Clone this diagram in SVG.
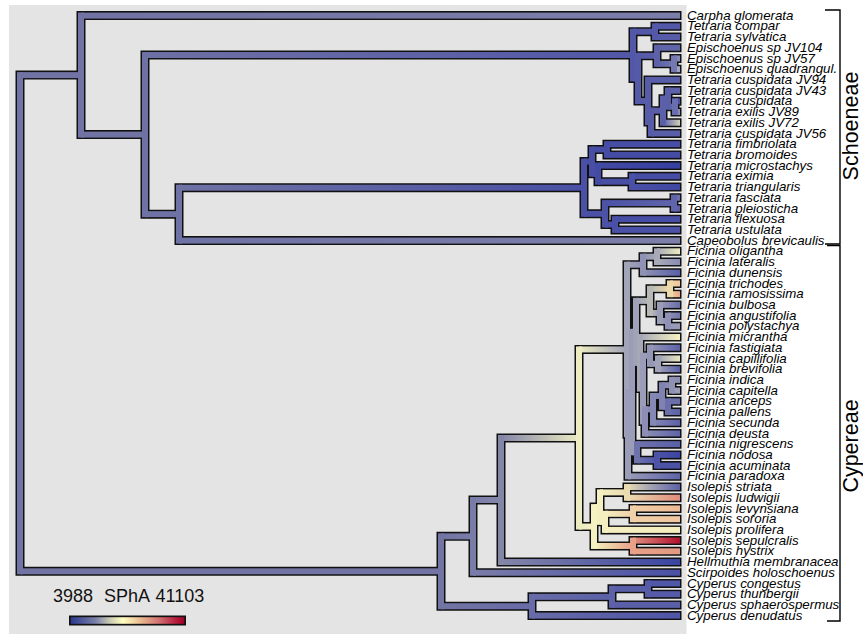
<svg xmlns="http://www.w3.org/2000/svg" width="863" height="634" viewBox="0 0 863 634">
<style>
.lab{font-family:"Liberation Sans",Arial,sans-serif;font-style:italic;font-size:13.3px;fill:#000}
.clade{font-family:"Liberation Sans",Arial,sans-serif;font-size:21.5px;fill:#000}
.leg{font-family:"Liberation Sans",Arial,sans-serif;font-size:18px;fill:#111}
.outline{fill:none;stroke:#111;stroke-width:9;stroke-linecap:square}
.br{fill:none;stroke:#000;stroke-width:1.4}
</style>
<defs>
<linearGradient id="leg"><stop offset="0" stop-color="#2b3990"/><stop offset="0.22" stop-color="#7a80a8"/><stop offset="0.34" stop-color="#c8c8b4"/><stop offset="0.46" stop-color="#ffffc0"/><stop offset="0.62" stop-color="#e8b890"/><stop offset="0.78" stop-color="#d07070"/><stop offset="0.92" stop-color="#b82040"/><stop offset="1" stop-color="#a00028"/></linearGradient>
<linearGradient id="gN1c"><stop offset="0" stop-color="#7073a3"/><stop offset="1" stop-color="#7c7eaa"/></linearGradient>
<linearGradient id="gE"><stop offset="0" stop-color="#6e71a4"/><stop offset="1" stop-color="#5257a8"/></linearGradient>
<linearGradient id="gP"><stop offset="0" stop-color="#6e72a4"/><stop offset="1" stop-color="#4a50a5"/></linearGradient>
<linearGradient id="gCap"><stop offset="0" stop-color="#6e72a4"/><stop offset="1" stop-color="#7d7fa9"/></linearGradient>
<linearGradient id="gI"><stop offset="0" stop-color="#5c61a8"/><stop offset="1" stop-color="#7478b0"/></linearGradient>
<linearGradient id="gJ72"><stop offset="0" stop-color="#5c60aa"/><stop offset="1" stop-color="#cfcfba"/></linearGradient>
<linearGradient id="gNn"><stop offset="0" stop-color="#5a5faa"/><stop offset="1" stop-color="#6a6eae"/></linearGradient>
<linearGradient id="gMic"><stop offset="0" stop-color="#434aa3"/><stop offset="1" stop-color="#353fa0"/></linearGradient>
<linearGradient id="gTri"><stop offset="0" stop-color="#4a50a5"/><stop offset="1" stop-color="#3f47a2"/></linearGradient>
<linearGradient id="gSa"><stop offset="0" stop-color="#4c52a6"/><stop offset="1" stop-color="#6064ab"/></linearGradient>
<linearGradient id="gB"><stop offset="0" stop-color="#7275a3"/><stop offset="1" stop-color="#7a7ca8"/></linearGradient>
<linearGradient id="gCy"><stop offset="0" stop-color="#7275a3"/><stop offset="1" stop-color="#676ba7"/></linearGradient>
<linearGradient id="gC"><stop offset="0" stop-color="#7a7ca8"/><stop offset="1" stop-color="#8486a8"/></linearGradient>
<linearGradient id="gSc"><stop offset="0" stop-color="#7a7ca8"/><stop offset="1" stop-color="#4a51a6"/></linearGradient>
<linearGradient id="gD"><stop offset="0" stop-color="#8486a8"/><stop offset="1" stop-color="#ecebc2"/></linearGradient>
<linearGradient id="gHe"><stop offset="0" stop-color="#8486a8"/><stop offset="1" stop-color="#3a44a2"/></linearGradient>
<linearGradient id="gFc"><stop offset="0" stop-color="#ecebc2"/><stop offset="1" stop-color="#a2a4b8"/></linearGradient>
<linearGradient id="gIs"><stop offset="0" stop-color="#ecebc2"/><stop offset="1" stop-color="#f4f2c0"/></linearGradient>
<linearGradient id="gFa"><stop offset="0" stop-color="#a2a4b8"/><stop offset="1" stop-color="#9092b5"/></linearGradient>
<linearGradient id="gFol"><stop offset="0" stop-color="#9092b5"/><stop offset="1" stop-color="#a8aab8"/></linearGradient>
<linearGradient id="gDu"><stop offset="0" stop-color="#9092b5"/><stop offset="1" stop-color="#5960a8"/></linearGradient>
<linearGradient id="gOl"><stop offset="0" stop-color="#a8aab8"/><stop offset="1" stop-color="#ecebc2"/></linearGradient>
<linearGradient id="gLa"><stop offset="0" stop-color="#a8aab8"/><stop offset="1" stop-color="#8a8cb4"/></linearGradient>
<linearGradient id="gPa"><stop offset="0" stop-color="#9a9cb8"/><stop offset="1" stop-color="#5e63a9"/></linearGradient>
<linearGradient id="gNna"><stop offset="0" stop-color="#9a9cb8"/><stop offset="1" stop-color="#6e72ab"/></linearGradient>
<linearGradient id="gT"><stop offset="0" stop-color="#a0a2b8"/><stop offset="1" stop-color="#b8b9b6"/></linearGradient>
<linearGradient id="gTtr"><stop offset="0" stop-color="#b8b9b6"/><stop offset="1" stop-color="#ecd8a8"/></linearGradient>
<linearGradient id="gTbu"><stop offset="0" stop-color="#b8b9b6"/><stop offset="1" stop-color="#9a9cb8"/></linearGradient>
<linearGradient id="gTr"><stop offset="0" stop-color="#ecd8a8"/><stop offset="1" stop-color="#f2c49c"/></linearGradient>
<linearGradient id="gRa"><stop offset="0" stop-color="#ecd8a8"/><stop offset="1" stop-color="#eaa684"/></linearGradient>
<linearGradient id="gBu"><stop offset="0" stop-color="#9a9cb8"/><stop offset="1" stop-color="#6a6eaa"/></linearGradient>
<linearGradient id="gAn"><stop offset="0" stop-color="#8e90b5"/><stop offset="1" stop-color="#7276ac"/></linearGradient>
<linearGradient id="gMi"><stop offset="0" stop-color="#a6a8b8"/><stop offset="1" stop-color="#f6f3c2"/></linearGradient>
<linearGradient id="gFs"><stop offset="0" stop-color="#9496b6"/><stop offset="1" stop-color="#5d62a8"/></linearGradient>
<linearGradient id="gCa"><stop offset="0" stop-color="#a0a2b8"/><stop offset="1" stop-color="#e8e6c0"/></linearGradient>
<linearGradient id="gBr"><stop offset="0" stop-color="#a0a2b8"/><stop offset="1" stop-color="#5a60a8"/></linearGradient>
<linearGradient id="gDeu"><stop offset="0" stop-color="#8c8eb5"/><stop offset="1" stop-color="#5f64a9"/></linearGradient>
<linearGradient id="gSec"><stop offset="0" stop-color="#8587b4"/><stop offset="1" stop-color="#5c61a9"/></linearGradient>
<linearGradient id="gPal"><stop offset="0" stop-color="#6a6eaa"/><stop offset="1" stop-color="#5c61a9"/></linearGradient>
<linearGradient id="gNi"><stop offset="0" stop-color="#6e72ab"/><stop offset="1" stop-color="#5a60a8"/></linearGradient>
<linearGradient id="gNnd"><stop offset="0" stop-color="#6e72ab"/><stop offset="1" stop-color="#4d54a8"/></linearGradient>
<linearGradient id="gNo"><stop offset="0" stop-color="#4d54a8"/><stop offset="1" stop-color="#3b44a2"/></linearGradient>
<linearGradient id="gSH"><stop offset="0" stop-color="#f4f2c0"/><stop offset="1" stop-color="#e8a088"/></linearGradient>
<linearGradient id="gSL"><stop offset="0" stop-color="#f4efc0"/><stop offset="1" stop-color="#eadcb0"/></linearGradient>
<linearGradient id="gSt"><stop offset="0" stop-color="#eadcb0"/><stop offset="0.4" stop-color="#a8a8b4"/><stop offset="1" stop-color="#5c62a8"/></linearGradient>
<linearGradient id="gLu"><stop offset="0" stop-color="#eadcb0"/><stop offset="1" stop-color="#e08a7c"/></linearGradient>
<linearGradient id="gLS"><stop offset="0" stop-color="#f4eec0"/><stop offset="1" stop-color="#f0d0a8"/></linearGradient>
<linearGradient id="gLe"><stop offset="0" stop-color="#f0d0a8"/><stop offset="1" stop-color="#eeb894"/></linearGradient>
<linearGradient id="gSo"><stop offset="0" stop-color="#f0d0a8"/><stop offset="1" stop-color="#f0c6a0"/></linearGradient>
<linearGradient id="gSe"><stop offset="0" stop-color="#e29080"/><stop offset="1" stop-color="#b0102e"/></linearGradient>
<linearGradient id="gHy"><stop offset="0" stop-color="#e8a088"/><stop offset="1" stop-color="#e49a82"/></linearGradient>
<linearGradient id="gCy2"><stop offset="0" stop-color="#676ba7"/><stop offset="1" stop-color="#5c61a8"/></linearGradient>
<linearGradient id="gDe"><stop offset="0" stop-color="#676ba7"/><stop offset="1" stop-color="#4f55a7"/></linearGradient>
</defs>
<rect x="0" y="0" width="863" height="634" fill="#fff"/>
<rect x="9" y="5" width="677.5" height="629" fill="#e4e4e4"/>
<g id="branches">
<path class="outline" d="M20 75.1V571.3M81 15.6V134.59M145 55.03V214.15M179 187.7V240.6M633 31.67V78.38M655 26.31V37.03M638 55.78V100.98M657 47.74V63.81M674 58.46V69.17M648 79.89V122.07M651 110.69V133.46M663 98.64V122.74M668 90.6V106.67M675 101.31V112.03M584 161.58V213.81M592 149.53V173.64M607 144.17V154.89M598 165.6V181.67M632 176.31V187.03M605 203.1V224.53M674 197.74V208.46M615 219.17V229.89M441 536.37V606.22M473 500V572.74M501 437.98V562.03M579 349.43V526.54M627 264.7V434.17M643 256.67V272.74M657 251.31V262.03M628 392.02V476.31M632 331.84V452.21M636 300.87V362.81M650 288.81V312.92M670 283.46V294.17M660 304.89V320.96M668 315.6V326.31M640 337.03V388.59M643 355.78V421.4M650 347.74V363.81M658 358.46V369.17M645 409.35V433.46M653 395.96V422.74M662 385.24V406.67M672 379.89V390.6M668 401.31V412.03M637 444.17V460.24M657 454.89V465.6M594 507.12V545.96M600 492.38V521.85M627 487.03V497.74M605 513.81V529.89M633 508.46V519.17M633 540.6V551.31M532 596.85V615.6M612 588.81V604.89M648 583.46V594.17
M20 75.1H81M20 571.3H441M81 15.6H677M81 134.59H145M145 55.03H633M145 214.15H179M179 187.7H584M179 240.6H677M633 31.67H655M633 78.38H638M655 26.31H677M655 37.03H677M638 55.78H657M638 100.98H648M657 47.74H677M657 63.81H674M674 58.46H677M674 69.17H677M648 79.89H677M648 122.07H651M651 110.69H663M651 133.46H677M663 98.64H668M663 122.74H677M668 90.6H677M668 106.67H675M675 101.31H677M675 112.03H677M584 161.58H592M584 213.81H605M592 149.53H607M592 173.64H598M607 144.17H677M607 154.89H677M598 165.6H677M598 181.67H632M632 176.31H677M632 187.03H677M605 203.1H674M605 224.53H615M674 197.74H677M674 208.46H677M615 219.17H677M615 229.89H677M441 536.37H473M441 606.22H532M473 500H501M473 572.74H677M501 437.98H579M501 562.03H677M579 349.43H627M579 526.54H594M627 264.7H643M627 434.17H628M643 256.67H657M643 272.74H677M657 251.31H677M657 262.03H677M628 392.02H632M628 476.31H677M632 331.84H636M632 452.21H637M636 300.87H650M636 362.81H640M650 288.81H670M650 312.92H660M670 283.46H677M670 294.17H677M660 304.89H677M660 320.96H668M668 315.6H677M668 326.31H677M640 337.03H677M640 388.59H643M643 355.78H650M643 421.4H645M650 347.74H677M650 363.81H658M658 358.46H677M658 369.17H677M645 409.35H653M645 433.46H677M653 395.96H662M653 422.74H677M662 385.24H672M662 406.67H668M672 379.89H677M672 390.6H677M668 401.31H677M668 412.03H677M637 444.17H677M637 460.24H657M657 454.89H677M657 465.6H677M594 507.12H600M594 545.96H633M600 492.38H627M600 521.85H605M627 487.03H677M627 497.74H677M605 513.81H633M605 529.89H677M633 508.46H677M633 519.17H677M633 540.6H677M633 551.31H677M532 596.85H612M532 615.6H677M612 588.81H648M612 604.89H677M648 583.46H677M648 594.17H677"/>
<g id="edges">
<rect x="20" y="72.1" width="61" height="6" fill="#7073a3"/>
<rect x="20" y="568.3" width="421" height="6" fill="#7275a3"/>
<rect x="81" y="12.6" width="599" height="6" fill="url(#gN1c)"/>
<rect x="81" y="131.59" width="64" height="6" fill="#7073a3"/>
<rect x="145" y="52.03" width="488" height="6" fill="url(#gE)"/>
<rect x="145" y="211.15" width="34" height="6" fill="#6e72a4"/>
<rect x="179" y="184.7" width="405" height="6" fill="url(#gP)"/>
<rect x="179" y="237.6" width="501" height="6" fill="url(#gCap)"/>
<rect x="633" y="28.67" width="22" height="6" fill="#5357a8"/>
<rect x="633" y="75.38" width="5" height="6" fill="#5358a8"/>
<rect x="655" y="23.31" width="25" height="6" fill="#5257a8"/>
<rect x="655" y="34.03" width="25" height="6" fill="#585ca8"/>
<rect x="638" y="52.78" width="19" height="6" fill="#585ca8"/>
<rect x="638" y="97.98" width="10" height="6" fill="#565ba8"/>
<rect x="657" y="44.74" width="23" height="6" fill="#6065a9"/>
<rect x="657" y="60.81" width="17" height="6" fill="url(#gI)"/>
<rect x="674" y="55.46" width="6" height="6" fill="#8587b6"/>
<rect x="674" y="66.17" width="6" height="6" fill="#a2a4bf"/>
<rect x="648" y="76.89" width="32" height="6" fill="#585da9"/>
<rect x="648" y="119.07" width="3" height="6" fill="#575ca8"/>
<rect x="651" y="107.69" width="12" height="6" fill="#5a5ea9"/>
<rect x="651" y="130.46" width="29" height="6" fill="#595ea9"/>
<rect x="663" y="95.64" width="5" height="6" fill="#5b5faa"/>
<rect x="663" y="119.74" width="17" height="6" fill="url(#gJ72)"/>
<rect x="668" y="87.6" width="12" height="6" fill="#5d62aa"/>
<rect x="668" y="103.67" width="7" height="6" fill="url(#gNn)"/>
<rect x="675" y="98.31" width="5" height="6" fill="#4a50a8"/>
<rect x="675" y="109.03" width="5" height="6" fill="#8a8db8"/>
<rect x="584" y="158.58" width="8" height="6" fill="#494fa5"/>
<rect x="584" y="210.81" width="21" height="6" fill="#4b51a6"/>
<rect x="592" y="146.53" width="15" height="6" fill="#464da4"/>
<rect x="592" y="170.64" width="6" height="6" fill="#454ca4"/>
<rect x="607" y="141.17" width="73" height="6" fill="#484ea5"/>
<rect x="607" y="151.89" width="73" height="6" fill="#454ca4"/>
<rect x="598" y="162.6" width="82" height="6" fill="url(#gMic)"/>
<rect x="598" y="178.67" width="34" height="6" fill="#474ea4"/>
<rect x="632" y="173.31" width="48" height="6" fill="#464da4"/>
<rect x="632" y="184.03" width="48" height="6" fill="url(#gTri)"/>
<rect x="605" y="200.1" width="69" height="6" fill="url(#gSa)"/>
<rect x="605" y="221.53" width="10" height="6" fill="#4b51a6"/>
<rect x="674" y="194.74" width="6" height="6" fill="#6c70ae"/>
<rect x="674" y="205.46" width="6" height="6" fill="#5c61aa"/>
<rect x="615" y="216.17" width="65" height="6" fill="#474ea5"/>
<rect x="615" y="226.89" width="65" height="6" fill="#4a51a6"/>
<rect x="441" y="533.37" width="32" height="6" fill="url(#gB)"/>
<rect x="441" y="603.22" width="91" height="6" fill="url(#gCy)"/>
<rect x="473" y="497" width="28" height="6" fill="url(#gC)"/>
<rect x="473" y="569.74" width="207" height="6" fill="url(#gSc)"/>
<rect x="501" y="434.98" width="78" height="6" fill="url(#gD)"/>
<rect x="501" y="559.03" width="179" height="6" fill="url(#gHe)"/>
<rect x="579" y="346.43" width="48" height="6" fill="url(#gFc)"/>
<rect x="579" y="523.54" width="15" height="6" fill="url(#gIs)"/>
<rect x="627" y="261.7" width="16" height="6" fill="url(#gFa)"/>
<rect x="627" y="431.17" width="1" height="6" fill="#9a9cb8"/>
<rect x="643" y="253.67" width="14" height="6" fill="url(#gFol)"/>
<rect x="643" y="269.74" width="37" height="6" fill="url(#gDu)"/>
<rect x="657" y="248.31" width="23" height="6" fill="url(#gOl)"/>
<rect x="657" y="259.03" width="23" height="6" fill="url(#gLa)"/>
<rect x="628" y="389.02" width="4" height="6" fill="#9a9cb8"/>
<rect x="628" y="473.31" width="52" height="6" fill="url(#gPa)"/>
<rect x="632" y="328.84" width="4" height="6" fill="#9ea0b8"/>
<rect x="632" y="449.21" width="5" height="6" fill="url(#gNna)"/>
<rect x="636" y="297.87" width="14" height="6" fill="url(#gT)"/>
<rect x="636" y="359.81" width="4" height="6" fill="#a4a6b8"/>
<rect x="650" y="285.81" width="20" height="6" fill="url(#gTtr)"/>
<rect x="650" y="309.92" width="10" height="6" fill="url(#gTbu)"/>
<rect x="670" y="280.46" width="10" height="6" fill="url(#gTr)"/>
<rect x="670" y="291.17" width="10" height="6" fill="url(#gRa)"/>
<rect x="660" y="301.89" width="20" height="6" fill="url(#gBu)"/>
<rect x="660" y="317.96" width="8" height="6" fill="#9496b6"/>
<rect x="668" y="312.6" width="12" height="6" fill="url(#gAn)"/>
<rect x="668" y="323.31" width="12" height="6" fill="#989ab8"/>
<rect x="640" y="334.03" width="40" height="6" fill="url(#gMi)"/>
<rect x="640" y="385.59" width="3" height="6" fill="#a0a2b8"/>
<rect x="643" y="352.78" width="7" height="6" fill="#9698b6"/>
<rect x="643" y="418.4" width="2" height="6" fill="#8c8eb5"/>
<rect x="650" y="344.74" width="30" height="6" fill="url(#gFs)"/>
<rect x="650" y="360.81" width="8" height="6" fill="#9a9cb7"/>
<rect x="658" y="355.46" width="22" height="6" fill="url(#gCa)"/>
<rect x="658" y="366.17" width="22" height="6" fill="url(#gBr)"/>
<rect x="645" y="406.35" width="8" height="6" fill="#8789b4"/>
<rect x="645" y="430.46" width="35" height="6" fill="url(#gDeu)"/>
<rect x="653" y="392.96" width="9" height="6" fill="#8284b3"/>
<rect x="653" y="419.74" width="27" height="6" fill="url(#gSec)"/>
<rect x="662" y="382.24" width="10" height="6" fill="#888ab3"/>
<rect x="662" y="403.67" width="6" height="6" fill="#7478ae"/>
<rect x="672" y="376.89" width="8" height="6" fill="#8c8eb4"/>
<rect x="672" y="387.6" width="8" height="6" fill="#9a9cb8"/>
<rect x="668" y="398.31" width="12" height="6" fill="#6a6faa"/>
<rect x="668" y="409.03" width="12" height="6" fill="url(#gPal)"/>
<rect x="637" y="441.17" width="43" height="6" fill="url(#gNi)"/>
<rect x="637" y="457.24" width="20" height="6" fill="url(#gNnd)"/>
<rect x="657" y="451.89" width="23" height="6" fill="url(#gNo)"/>
<rect x="657" y="462.6" width="23" height="6" fill="#4c53a7"/>
<rect x="594" y="504.12" width="6" height="6" fill="#f4f2c0"/>
<rect x="594" y="542.96" width="39" height="6" fill="url(#gSH)"/>
<rect x="600" y="489.38" width="27" height="6" fill="url(#gSL)"/>
<rect x="600" y="518.85" width="5" height="6" fill="#f4efc0"/>
<rect x="627" y="484.03" width="53" height="6" fill="url(#gSt)"/>
<rect x="627" y="494.74" width="53" height="6" fill="url(#gLu)"/>
<rect x="605" y="510.81" width="28" height="6" fill="url(#gLS)"/>
<rect x="605" y="526.89" width="75" height="6" fill="#f4eec0"/>
<rect x="633" y="505.46" width="47" height="6" fill="url(#gLe)"/>
<rect x="633" y="516.17" width="47" height="6" fill="url(#gSo)"/>
<rect x="633" y="537.6" width="47" height="6" fill="url(#gSe)"/>
<rect x="633" y="548.31" width="47" height="6" fill="url(#gHy)"/>
<rect x="532" y="593.85" width="80" height="6" fill="url(#gCy2)"/>
<rect x="532" y="612.6" width="148" height="6" fill="url(#gDe)"/>
<rect x="612" y="585.81" width="36" height="6" fill="#595ea8"/>
<rect x="612" y="601.89" width="68" height="6" fill="#5a5fa8"/>
<rect x="648" y="580.46" width="32" height="6" fill="#5258a8"/>
<rect x="648" y="591.17" width="32" height="6" fill="#555ba8"/>
</g>
<g id="verticals">
<rect x="17" y="72.1" width="6" height="502.2" fill="#7073a3"/>
<rect x="78" y="12.6" width="6" height="124.99" fill="#7073a3"/>
<rect x="142" y="52.03" width="6" height="165.12" fill="#6e71a4"/>
<rect x="176" y="184.7" width="6" height="58.9" fill="#6e72a4"/>
<rect x="630" y="28.67" width="6" height="52.71" fill="#5257a8"/>
<rect x="652" y="23.31" width="6" height="16.72" fill="#5458a8"/>
<rect x="635" y="52.78" width="6" height="51.2" fill="#5459a8"/>
<rect x="654" y="44.74" width="6" height="22.07" fill="#5c61a8"/>
<rect x="671" y="55.46" width="6" height="16.71" fill="#7478b0"/>
<rect x="645" y="76.89" width="6" height="48.18" fill="#575ca8"/>
<rect x="648" y="107.69" width="6" height="28.77" fill="#575ca8"/>
<rect x="660" y="95.64" width="6" height="30.1" fill="#5c60aa"/>
<rect x="665" y="87.6" width="6" height="22.07" fill="#5a5faa"/>
<rect x="672" y="98.31" width="6" height="16.72" fill="#6a6eae"/>
<rect x="581" y="158.58" width="6" height="58.23" fill="#4a50a5"/>
<rect x="589" y="146.53" width="6" height="30.11" fill="#474ea4"/>
<rect x="604" y="141.17" width="6" height="16.72" fill="#454ca4"/>
<rect x="595" y="162.6" width="6" height="22.07" fill="#434aa3"/>
<rect x="629" y="173.31" width="6" height="16.72" fill="#4a50a5"/>
<rect x="602" y="200.1" width="6" height="27.43" fill="#4c52a6"/>
<rect x="671" y="194.74" width="6" height="16.72" fill="#6064ab"/>
<rect x="612" y="216.17" width="6" height="16.72" fill="#4a50a6"/>
<rect x="438" y="533.37" width="6" height="75.85" fill="#7275a3"/>
<rect x="470" y="497" width="6" height="78.74" fill="#7a7ca8"/>
<rect x="498" y="434.98" width="6" height="130.05" fill="#8486a8"/>
<rect x="576" y="346.43" width="6" height="183.11" fill="#ecebc2"/>
<rect x="624" y="261.7" width="6" height="175.47" fill="#a2a4b8"/>
<rect x="640" y="253.67" width="6" height="22.07" fill="#9092b5"/>
<rect x="654" y="248.31" width="6" height="16.72" fill="#a8aab8"/>
<rect x="625" y="389.02" width="6" height="90.29" fill="#9a9cb8"/>
<rect x="629" y="328.84" width="6" height="126.37" fill="#9a9cb8"/>
<rect x="633" y="297.87" width="6" height="67.94" fill="#a0a2b8"/>
<rect x="647" y="285.81" width="6" height="30.11" fill="#b8b9b6"/>
<rect x="667" y="280.46" width="6" height="16.71" fill="#ecd8a8"/>
<rect x="657" y="301.89" width="6" height="22.07" fill="#9a9cb8"/>
<rect x="665" y="312.6" width="6" height="16.71" fill="#8e90b5"/>
<rect x="637" y="334.03" width="6" height="57.56" fill="#a6a8b8"/>
<rect x="640" y="352.78" width="6" height="71.62" fill="#9a9cb8"/>
<rect x="647" y="344.74" width="6" height="22.07" fill="#9496b6"/>
<rect x="655" y="355.46" width="6" height="16.71" fill="#a0a2b8"/>
<rect x="642" y="406.35" width="6" height="30.11" fill="#8c8eb5"/>
<rect x="650" y="392.96" width="6" height="32.78" fill="#8587b4"/>
<rect x="659" y="382.24" width="6" height="27.43" fill="#8082b2"/>
<rect x="669" y="376.89" width="6" height="16.71" fill="#8e90b4"/>
<rect x="665" y="398.31" width="6" height="16.72" fill="#6a6eaa"/>
<rect x="634" y="441.17" width="6" height="22.07" fill="#6e72ab"/>
<rect x="654" y="451.89" width="6" height="16.71" fill="#4d54a8"/>
<rect x="591" y="504.12" width="6" height="44.84" fill="#f4f2c0"/>
<rect x="597" y="489.38" width="6" height="35.47" fill="#f4efc0"/>
<rect x="624" y="484.03" width="6" height="16.71" fill="#eadcb0"/>
<rect x="602" y="510.81" width="6" height="22.08" fill="#f4eec0"/>
<rect x="630" y="505.46" width="6" height="16.71" fill="#f0d0a8"/>
<rect x="630" y="537.6" width="6" height="16.71" fill="#e8a088"/>
<rect x="529" y="593.85" width="6" height="24.75" fill="#676ba7"/>
<rect x="609" y="585.81" width="6" height="22.08" fill="#5c61a8"/>
<rect x="645" y="580.46" width="6" height="16.71" fill="#565ba8"/>
</g>
</g>
<g id="tips" class="lab">
<g id="t00"><text x="687" y="19.6">Carpha glomerata</text></g>
<g id="t01"><text x="687" y="30.3">Tetraria compar</text></g>
<g id="t02"><text x="687" y="41.0">Tetraria sylvatica</text></g>
<g id="t03"><text x="687" y="51.7">Epischoenus sp JV104</text></g>
<g id="t04"><text x="687" y="62.5">Epischoenus sp JV57</text></g>
<g id="t05"><text x="687" y="73.2">Epischoenus quadrangul.</text></g>
<g id="t06"><text x="687" y="83.9">Tetraria cuspidata JV94</text></g>
<g id="t07"><text x="687" y="94.6">Tetraria cuspidata JV43</text></g>
<g id="t08"><text x="687" y="105.3">Tetraria cuspidata</text></g>
<g id="t09"><text x="687" y="116.0">Tetraria exilis JV89</text></g>
<g id="t10"><text x="687" y="126.7">Tetraria exilis JV72</text></g>
<g id="t11"><text x="687" y="137.5">Tetraria cuspidata JV56</text></g>
<g id="t12"><text x="687" y="148.2">Tetraria fimbriolata</text></g>
<g id="t13"><text x="687" y="158.9">Tetraria bromoides</text></g>
<g id="t14"><text x="687" y="169.6">Tetraria microstachys</text></g>
<g id="t15"><text x="687" y="180.3">Tetraria eximia</text></g>
<g id="t16"><text x="687" y="191.0">Tetraria triangularis</text></g>
<g id="t17"><text x="687" y="201.7">Tetraria fasciata</text></g>
<g id="t18"><text x="687" y="212.5">Tetraria pleiosticha</text></g>
<g id="t19"><text x="687" y="223.2">Tetraria flexuosa</text></g>
<g id="t20"><text x="687" y="233.9">Tetraria ustulata</text></g>
<g id="t21"><text x="687" y="244.6">Capeobolus brevicaulis</text></g>
<g id="t22"><text x="687" y="255.3">Ficinia oligantha</text></g>
<g id="t23"><text x="687" y="266.0">Ficinia lateralis</text></g>
<g id="t24"><text x="687" y="276.7">Ficinia dunensis</text></g>
<g id="t25"><text x="687" y="287.5">Ficinia trichodes</text></g>
<g id="t26"><text x="687" y="298.2">Ficinia ramosissima</text></g>
<g id="t27"><text x="687" y="308.9">Ficinia bulbosa</text></g>
<g id="t28"><text x="687" y="319.6">Ficinia angustifolia</text></g>
<g id="t29"><text x="687" y="330.3">Ficinia polystachya</text></g>
<g id="t30"><text x="687" y="341.0">Ficinia micrantha</text></g>
<g id="t31"><text x="687" y="351.7">Ficinia fastigiata</text></g>
<g id="t32"><text x="687" y="362.5">Ficinia capillifolia</text></g>
<g id="t33"><text x="687" y="373.2">Ficinia brevifolia</text></g>
<g id="t34"><text x="687" y="383.9">Ficinia indica</text></g>
<g id="t35"><text x="687" y="394.6">Ficinia capitella</text></g>
<g id="t36"><text x="687" y="405.3">Ficinia anceps</text></g>
<g id="t37"><text x="687" y="416.0">Ficinia pallens</text></g>
<g id="t38"><text x="687" y="426.7">Ficinia secunda</text></g>
<g id="t39"><text x="687" y="437.5">Ficinia deusta</text></g>
<g id="t40"><text x="687" y="448.2">Ficinia nigrescens</text></g>
<g id="t41"><text x="687" y="458.9">Ficinia nodosa</text></g>
<g id="t42"><text x="687" y="469.6">Ficinia acuminata</text></g>
<g id="t43"><text x="687" y="480.3">Ficinia paradoxa</text></g>
<g id="t44"><text x="687" y="491.0">Isolepis striata</text></g>
<g id="t45"><text x="687" y="501.7">Isolepis ludwigii</text></g>
<g id="t46"><text x="687" y="512.5">Isolepis levynsiana</text></g>
<g id="t47"><text x="687" y="523.2">Isolepis sororia</text></g>
<g id="t48"><text x="687" y="533.9">Isolepis prolifera</text></g>
<g id="t49"><text x="687" y="544.6">Isolepis sepulcralis</text></g>
<g id="t50"><text x="687" y="555.3">Isolepis hystrix</text></g>
<g id="t51"><text x="687" y="566.0">Hellmuthia membranacea</text></g>
<g id="t52"><text x="687" y="576.7">Scirpoides holoschoenus</text></g>
<g id="t53"><text x="687" y="587.5">Cyperus congestus</text></g>
<g id="t54"><text x="687" y="598.2">Cyperus thunbergii</text></g>
<g id="t55"><text x="687" y="608.9">Cyperus sphaerospermus</text></g>
<g id="t56"><text x="687" y="619.6">Cyperus denudatus</text></g>
</g>
<g id="clade-schoeneae">
<path class="br" d="M825 10H840V244H825"/>
<text class="clade" text-anchor="middle" transform="translate(857.5,126) rotate(-90)">Schoeneae</text>
</g>
<g id="clade-cypereae">
<path class="br" d="M827 245.5H840V621H827"/>
<text class="clade" text-anchor="middle" transform="translate(857.5,446) rotate(-90)">Cypereae</text>
</g>
<g id="legend">
<text class="leg" x="53" y="601.5">3988</text>
<text class="leg" x="104" y="601.5">SPhA</text>
<text class="leg" x="155.5" y="601.5">41103</text>
<rect x="69" y="615.5" width="117" height="10" fill="#111"/>
<rect x="70.7" y="617.2" width="113.6" height="6.6" fill="url(#leg)"/>
</g>
</svg>
